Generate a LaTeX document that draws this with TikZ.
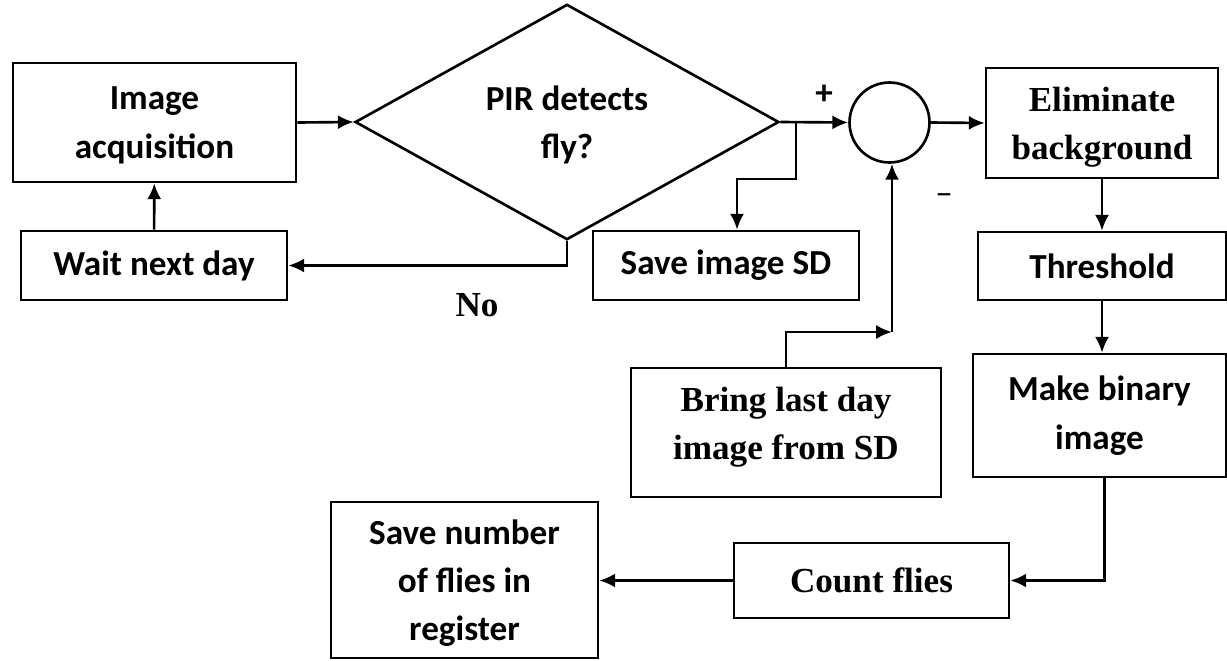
\documentclass[tikz,border=0pt]{standalone}
\usepackage{fontspec}
\setmainfont{Liberation Serif}
\newfontfamily\calfont{Carlito}
\usetikzlibrary{shapes.geometric,arrows.meta}
\tikzset{
	sbox/.style={draw,line width=1.5pt,align=center,inner sep=2pt,font=\calfont\bfseries\fontsize{20}{27.5}\selectfont},
	tbox/.style={draw,line width=1.5pt,align=center,inner sep=2pt,font=\bfseries\fontsize{20}{27.5}\selectfont},
	txt/.style={font=\bfseries\fontsize{20}{27.5}\selectfont},
	flow/.style={->,line width=1.5pt},
}
\begin{document}
\begin{tikzpicture}[>={Latex[length=9pt,width=8pt]},x=0.02cm,y=-0.02cm]
	\useasboundingbox (0,0) rectangle (1227,660);
	% left column
	\node[sbox,minimum width=5.66cm,minimum height=2.38cm,text depth=0pt] (acq) at (154.5,122.5) {Image\\acquisition};
	\node[sbox,minimum width=5.32cm,minimum height=1.38cm] (wait) at (154,265.5) {Wait next day};
	\node[draw,diamond,line width=1.5pt,inner sep=0pt,minimum width=8.48cm,minimum height=4.48cm,align=center,text depth=0pt,font=\calfont\bfseries\fontsize{20}{27.5}\selectfont] (pir) at (567,122) {PIR detects\\fly?};
	\node[txt] (no) at (477,305) {No};
	% middle
	\node[draw,circle,line width=1.5pt,minimum size=1.6cm] (sum) at (889.5,122.5) {};
	\node[font=\calfont\bfseries\fontsize{20}{27.5}\selectfont] (plus) at (824,95) {+};
	\node[font=\calfont\fontsize{20}{27.5}\selectfont] (minus) at (944,199) {–};
	\node[sbox,minimum width=5.32cm,minimum height=1.38cm] (savesd) at (726,265.5) {Save image SD};
	\node[tbox,minimum width=6.2cm,minimum height=2.58cm,text depth=0.38cm] (bring) at (786,432.5) {Bring last day\\image from SD};
	% right column
	\node[tbox,minimum width=4.64cm,minimum height=2.2cm,text depth=0pt] (elim) at (1102,123) {Eliminate\\background};
	\node[sbox,minimum width=4.96cm,minimum height=1.36cm] (thr) at (1102,266) {Threshold};
	\node[sbox,minimum width=5.06cm,minimum height=2.46cm] (binary) at (1099.5,415.5) {Make binary\\image};
	\node[tbox,minimum width=5.5cm,minimum height=1.5cm] (count) at (871.5,580.5) {Count flies};
	\node[sbox,minimum width=5.34cm,minimum height=3.12cm,text depth=0pt] (savenum) at (464.5,580) {Save number\\of flies in\\register};
	% connectors
	\coordinate (br) at (796,122);
	\coordinate (crn) at (892,332);
	\draw[flow] (wait) -- (acq);
	\draw[flow] (acq.east) -- (pir.west);
	\draw[flow] (pir.south) |- (wait.east);
	\draw[flow] (pir.east) -- (sum.west);
	\draw[flow] (br) -- ++(0,57) -| ([xshift=0.22cm]savesd.north);
	\draw[flow] (sum.east) -- (elim.west);
	\draw[flow] (bring.north) |- (crn);
	\draw[flow] (crn) -- (crn |- sum.south);
	\draw[flow] (elim.south) -- (elim.south |- thr.north);
	\draw[flow] (thr.south) -- (thr.south |- binary.north);
	\draw[flow] ([xshift=0.1cm]binary.south) |- (count.east);
	\draw[flow] (count.west) -- (savenum.east |- count.west);
\end{tikzpicture}
\end{document}
